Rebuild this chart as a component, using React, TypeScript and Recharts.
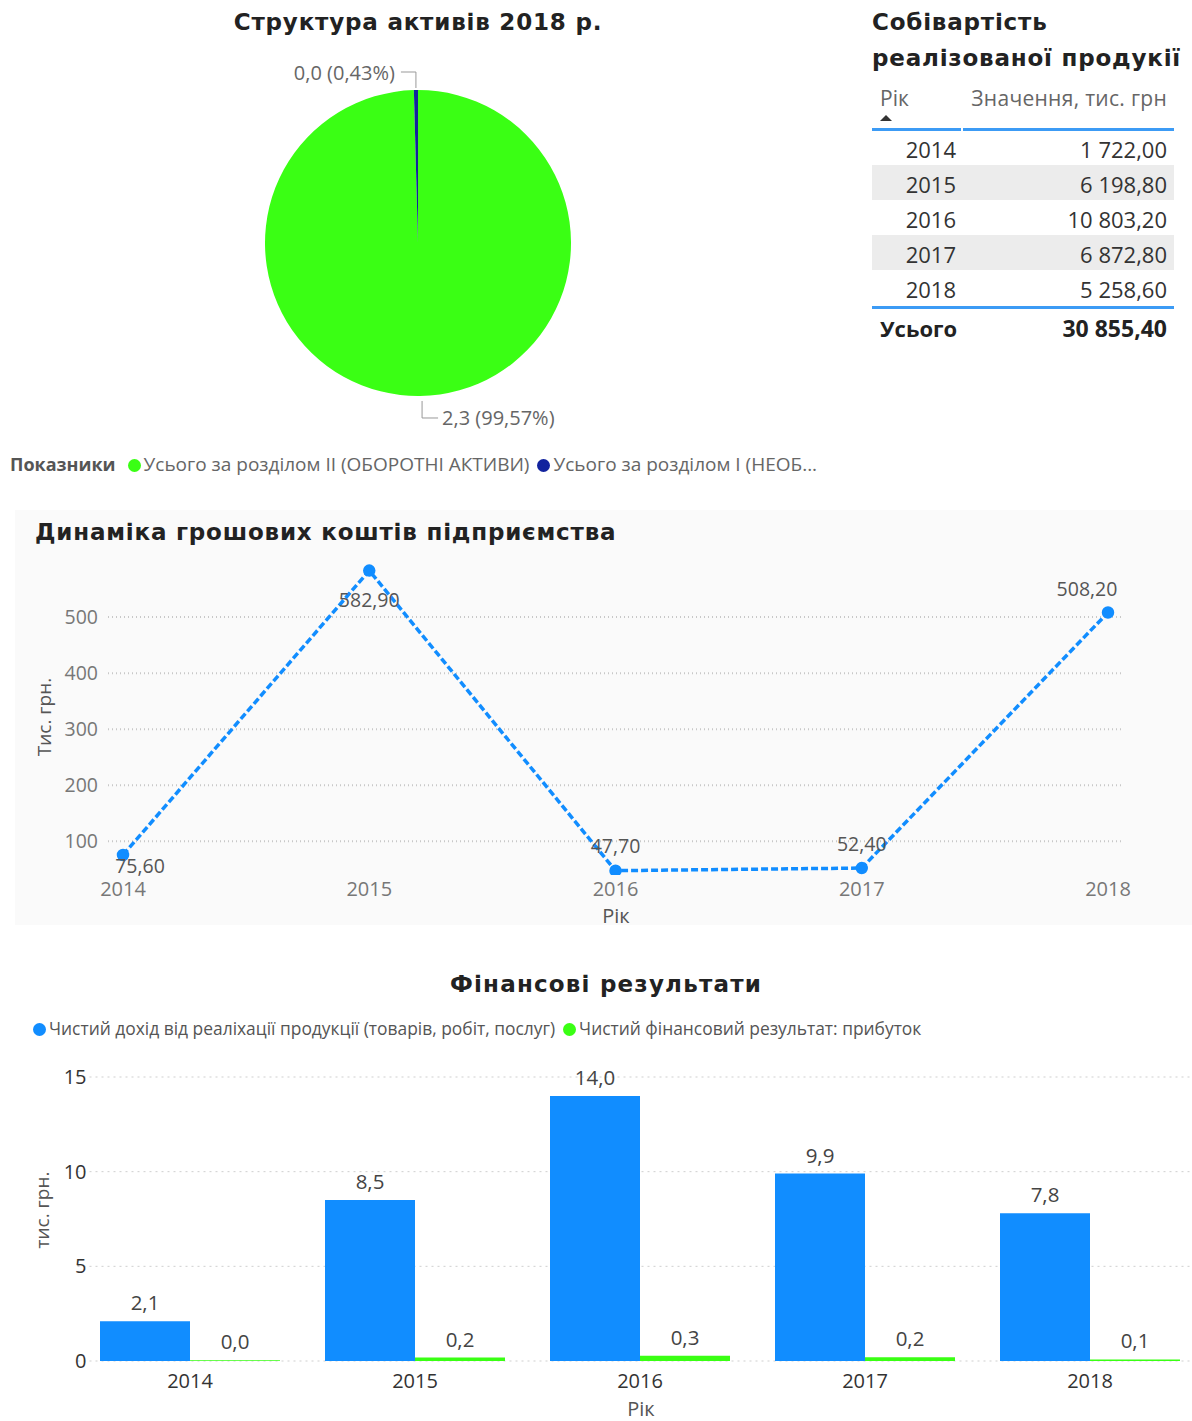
import { PieChart, Pie, Cell, LineChart, Line, BarChart, Bar, XAxis, YAxis, CartesianGrid, LabelList } from 'recharts';

const years = ['2014', '2015', '2016', '2017', '2018'];
const cashValues = [75.6, 582.9, 47.7, 52.4, 508.2];
const revenueValues = [2.1, 8.5, 14.0, 9.9, 7.8];
const profitValues = [0.04, 0.18, 0.28, 0.2, 0.08];
const costValues = [1722.0, 6198.8, 10803.2, 6872.8, 5258.6];
const assetNames = ['Усього за розділом II (ОБОРОТНІ АКТИВИ)', 'Усього за розділом I (НЕОБОРОТНІ АКТИВИ)'];
const assetValues = [2.29, 0.0099];

const BLUE = '#118DFF';
const GREEN = '#3AFF14';
const NAVY = '#12239E';
const TEXT_FONT = '"Open Sans", sans-serif';
const TITLE_FONT = '"DejaVu Sans", sans-serif';

const fmt = (v: number, d: number) => {
  const [i, f] = v.toFixed(d).split('.');
  return i.replace(/\B(?=(\d{3})+(?!\d))/g, ' ') + (f ? ',' + f : '');
};

const assetData = assetNames.map((name, i) => ({ name, value: assetValues[i] }));
const cashData = years.map((year, i) => ({ year, cash: cashValues[i] }));
const finData = years.map((year, i) => ({ year, revenue: revenueValues[i], profit: profitValues[i] }));
const costTotal = costValues.reduce((a, b) => a + b, 0);

const RADIAN = Math.PI / 180;

const pieLabel = (p: any) => {
  const sx = p.cx + p.outerRadius * Math.cos(-p.midAngle * RADIAN);
  const sy = p.cy + p.outerRadius * Math.sin(-p.midAngle * RADIAN);
  const txt = `${fmt(p.value, 1)} (${fmt(p.percent * 100, 2)}%)`;
  if (sy > p.cy) {
    return (
      <g>
        <polyline points={`${sx + 2},${sy + 5} ${sx + 2},${sy + 22} ${sx + 18},${sy + 22}`} fill="none" stroke="#999" />
        <text x={sx + 22} y={sy + 22} dominantBaseline="central" textAnchor="start" fill="#666" fontSize={20} fontFamily={TEXT_FONT}>{txt}</text>
      </g>
    );
  }
  return (
    <g>
      <polyline points={`${sx},${sy - 2} ${sx},${sy - 18} ${sx - 15},${sy - 18}`} fill="none" stroke="#999" />
      <text x={sx - 21} y={sy - 18} dominantBaseline="central" textAnchor="end" fill="#666" fontSize={20} fontFamily={TEXT_FONT}>{txt}</text>
    </g>
  );
};

// where Power BI put each data label relative to its point
const cashLabelOffsets = [[17, 10], [0, 29], [0, -25], [0, -25], [-21, -24]];

const cashLabel = (p: any) => {
  const [dx, dy] = cashLabelOffsets[p.index] || [0, -20];
  return (
    <text x={p.x + dx} y={p.y + dy} textAnchor="middle" dominantBaseline="central" fill="#555" fontSize={19.5} fontFamily={TEXT_FONT}>
      {fmt(p.value, 2)}
    </text>
  );
};

const titleStyle: any = {
  position: 'absolute',
  fontFamily: TITLE_FONT,
  fontWeight: 'bold',
  fontSize: 23,
  letterSpacing: 0.8,
  color: '#222',
  whiteSpace: 'nowrap',
  lineHeight: '36px',
};

const dot = (color: string, size = 13) => (
  <span style={{ display: 'inline-block', width: size, height: size, borderRadius: size / 2, background: color, marginRight: 3, verticalAlign: -1 }} />
);

const App = () => {
  return (
    <div style={{ position: 'absolute', left: 0, top: 0, width: 1192, height: 1421, overflow: 'hidden', background: '#fff', fontFamily: TEXT_FONT }}>
      {/* pie */}
      <div style={{ ...titleStyle, left: 0, width: 836, top: 4, textAlign: 'center' }}>Структура активів 2018 р.</div>
      <div style={{ position: 'absolute', left: 213, top: 38 }}>
        <PieChart width={400} height={400}>
          <Pie
            data={assetData}
            dataKey="value"
            nameKey="name"
            cx={200}
            cy={200}
            outerRadius={153}
            startAngle={90}
            endAngle={-270}
            stroke="none"
            label={pieLabel}
            labelLine={false}
            isAnimationActive={false}
          >
            <Cell fill={GREEN} />
            <Cell fill={NAVY} />
          </Pie>
        </PieChart>
      </div>
      <div style={{ position: 'absolute', left: 10, top: 450, fontSize: 19, color: '#666', whiteSpace: 'nowrap', lineHeight: '28px' }}>
        <b style={{ color: '#555', fontSize: 18, marginRight: 12 }}>Показники</b>
        {dot(GREEN)}<span style={{ marginRight: 8 }}>{assetNames[0]}</span>
        {dot(NAVY)}<span>Усього за розділом I (НЕОБ...</span>
      </div>

      {/* cost table */}
      <div style={{ ...titleStyle, left: 872, top: 4 }}>Собівартість</div>
      <div style={{ ...titleStyle, left: 872, top: 40 }}>реалізованої продукії</div>
      <div style={{ position: 'absolute', left: 872, top: 84, width: 302 }}>
        <div style={{ position: 'relative', height: 46, color: '#666', fontSize: 21 }}>
          <span style={{ position: 'absolute', left: 8, top: 0 }}>Рік</span>
          <span style={{ position: 'absolute', left: 8, top: 31, width: 0, height: 0, borderLeft: '6px solid transparent', borderRight: '6px solid transparent', borderBottom: '6px solid #333' }} />
          <span style={{ position: 'absolute', right: 7, top: 0, letterSpacing: 0.3 }}>Значення, тис. грн</span>
          <div style={{ position: 'absolute', left: 0, top: 44, width: 89, height: 3, background: '#3C9BF5' }} />
          <div style={{ position: 'absolute', left: 91, top: 44, width: 211, height: 3, background: '#3C9BF5' }} />
        </div>
        {years.map((y, i) => (
          <div key={y} style={{ position: 'relative', height: 35, background: i % 2 ? '#ececec' : 'transparent', fontSize: 22, color: '#333', lineHeight: '39px' }}>
            <span style={{ position: 'absolute', right: 218 }}>{y}</span>
            <span style={{ position: 'absolute', right: 7 }}>{fmt(costValues[i], 2)}</span>
          </div>
        ))}
        <div style={{ height: 3, background: '#3C9BF5', marginTop: 1 }} />
        <div style={{ position: 'relative', height: 36, fontSize: 22, color: '#222', fontWeight: 'bold', lineHeight: '38px' }}>
          <span style={{ position: 'absolute', left: 8 }}>Усього</span>
          <span style={{ position: 'absolute', right: 7, fontSize: 23 }}>{fmt(costTotal, 2)}</span>
        </div>
      </div>

      {/* cash line chart */}
      <div style={{ position: 'absolute', left: 15, top: 510, width: 1177, height: 415, background: '#fafafa' }} />
      <div style={{ ...titleStyle, left: 35, top: 514 }}>Динаміка грошових коштів підприємства</div>
      <div style={{ position: 'absolute', left: 0, top: 540 }}>
        <LineChart width={1192} height={390} data={cashData} margin={{ top: 21, right: 70, bottom: 25, left: 60 }}>
          <CartesianGrid vertical={false} syncWithTicks stroke="#c8c8c8" strokeDasharray="1 3" strokeWidth={2} />
          <XAxis dataKey="year" axisLine={false} tickLine={false} tickSize={0} tickMargin={7} padding={{ left: 15, right: 14 }} tick={{ fill: '#777', fontSize: 20, fontFamily: TEXT_FONT }} />
          <YAxis width={48} domain={[40, 600]} ticks={[100, 200, 300, 400, 500]} allowDataOverflow axisLine={false} tickLine={false} tickSize={0} tickMargin={10} tick={{ fill: '#777', fontSize: 19.5, fontFamily: TEXT_FONT }} />
          <Line type="linear" dataKey="cash" stroke={BLUE} strokeWidth={3.5} strokeDasharray="7 3" dot={{ r: 4.5, fill: BLUE, stroke: BLUE, strokeDasharray: '' }} isAnimationActive={false}>
            <LabelList dataKey="cash" content={cashLabel} />
          </Line>
        </LineChart>
      </div>
      <div style={{ position: 'absolute', left: 44, top: 717, transform: 'translate(-50%, -50%) rotate(-90deg)', fontSize: 19, color: '#555', whiteSpace: 'nowrap' }}>Тис. грн.</div>
      <div style={{ position: 'absolute', left: 616, top: 916, transform: 'translate(-50%, -50%)', fontSize: 20, color: '#555', lineHeight: '22px' }}>Рік</div>

      {/* financial results bar chart */}
      <div style={{ ...titleStyle, left: 0, width: 1212, top: 966, textAlign: 'center', letterSpacing: 1.2 }}>Фінансові результати</div>
      <div style={{ position: 'absolute', left: 33, top: 1015, fontSize: 17.4, color: '#555', whiteSpace: 'nowrap', lineHeight: '26px' }}>
        {dot(BLUE)}<span style={{ marginRight: 8 }}>Чистий дохід від реаліхації продукції (товарів, робіт, послуг)</span>
        {dot(GREEN)}<span>Чистий фінансовий результат: прибуток</span>
      </div>
      <div style={{ position: 'absolute', left: 0, top: 1060 }}>
        <BarChart width={1210} height={361} data={finData} margin={{ top: 17, right: 7.5, bottom: 30, left: 0 }} barCategoryGap="10%" barGap={0}>
          <CartesianGrid vertical={false} syncWithTicks stroke="#cfcfcf" strokeDasharray="2 4" />
          <XAxis dataKey="year" axisLine={false} tickLine={false} tickSize={0} tickMargin={13} tick={{ fill: '#333', fontSize: 20, fontFamily: TEXT_FONT }} />
          <YAxis width={77.5} domain={[0, 15]} ticks={[0, 5, 10, 15]} axisLine={false} tickLine={false} tickSize={0} tickMargin={-9} tick={{ fill: '#333', fontSize: 20, fontFamily: TEXT_FONT }} />
          <Bar dataKey="revenue" fill={BLUE} isAnimationActive={false}>
            <LabelList dataKey="revenue" position="top" offset={11} formatter={(v: any) => fmt(Number(v), 1)} style={{ fill: '#444', fontSize: 20.5, fontFamily: TEXT_FONT }} />
          </Bar>
          <Bar dataKey="profit" fill={GREEN} isAnimationActive={false}>
            <LabelList dataKey="profit" position="top" offset={11} formatter={(v: any) => fmt(Number(v), 1)} style={{ fill: '#444', fontSize: 20.5, fontFamily: TEXT_FONT }} />
          </Bar>
        </BarChart>
      </div>
      <div style={{ position: 'absolute', left: 42, top: 1210, transform: 'translate(-50%, -50%) rotate(-90deg)', fontSize: 19, color: '#555', whiteSpace: 'nowrap' }}>тис. грн.</div>
      <div style={{ position: 'absolute', left: 641, top: 1409, transform: 'translate(-50%, -50%)', fontSize: 20, color: '#555', lineHeight: '20px' }}>Рік</div>
    </div>
  );
};

export default App;
